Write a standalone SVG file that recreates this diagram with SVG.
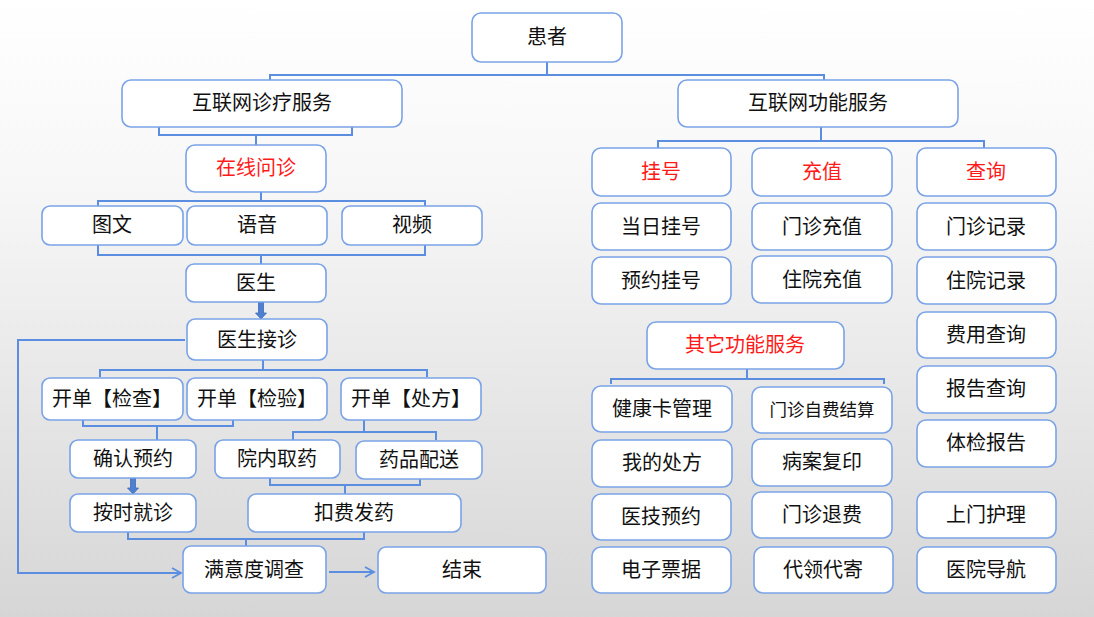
<svg xmlns="http://www.w3.org/2000/svg" width="1094" height="617" viewBox="0 0 1094 617">
<defs>
<linearGradient id="bg" x1="0" y1="0" x2="0" y2="1">
<stop offset="0" stop-color="#ffffff"/>
<stop offset="0.3" stop-color="#f7f7f7"/>
<stop offset="1" stop-color="#d6d6d6"/>
</linearGradient>
<marker id="arr" markerWidth="12" markerHeight="12" refX="10" refY="6" orient="auto" markerUnits="userSpaceOnUse">
<path d="M1,1 L10,6 L1,11" fill="none" stroke="#5b8ee0" stroke-width="1.8"/>
</marker>
<style>
.n rect{fill:#ffffff;stroke:#7aa3e6;stroke-width:1.6}
.n text{font-family:"Noto Sans CJK SC","Noto Sans",sans-serif;font-size:20px;fill:#111;text-anchor:middle;dominant-baseline:central;transform:translateY(-2px)}
.n text.r{fill:#ff1a1a}
.n text.s{font-size:17.5px}
.c path,.c line{fill:none;stroke:#5b8ee0;stroke-width:2}
.blk{fill:#4f80d0;stroke:#3e6db8;stroke-width:0.8}
</style>
</defs>
<rect width="1094" height="617" fill="url(#bg)"/>

<g class="c" id="connectors">
<path d="M547,62 V75 M270,82 V75 H824 V82"/>
<path d="M159,127 V135 H352 V127 M256,135 V145"/>
<path d="M261,192 V201 M98,206 V201 H425 V206"/>
<path d="M98,245 V255 H425 V245 M261,255 V264"/>
<path d="M263,360 V370 M100,377 V370 H427 V377"/>
<path d="M83,420 V426 H233 V420 M157,426 V440"/>
<path d="M364,420 V432 M293,440 V432 H436 V440"/>
<path d="M270,478 V485 H420 V478 M345,485 V494"/>
<path d="M128,532 V539 H364 V532 M246,539 V546"/>
<path d="M821,127 V141 M658,148 V141 H984 V148"/>
<path d="M747,369 V379 M611,384 V379 H884 V384"/>
<path d="M185,340 H18 V573 H181" marker-end="url(#arr)"/>
<path d="M329,572 H374" marker-end="url(#arr)"/>
<polygon class="blk" points="258.5,302 263.5,302 263.5,313 266.5,313 261,319 255.5,313 258.5,313"/>
<polygon class="blk" points="130.5,478 135.5,478 135.5,488 138.5,488 133,494 127.5,488 130.5,488"/>
</g>

<g class="n" id="patient"><rect x="472" y="13" width="150" height="49" rx="9"/><text x="547" y="37">患者</text></g>
<g class="n" id="internet-medical"><rect x="122" y="80" width="280" height="47" rx="9"/><text x="262" y="103">互联网诊疗服务</text></g>
<g class="n" id="internet-function"><rect x="678" y="80" width="280" height="47" rx="9"/><text x="818" y="103">互联网功能服务</text></g>

<g class="n" id="online-consult"><rect x="186" y="145" width="140" height="47" rx="9"/><text class="r" x="256" y="168">在线问诊</text></g>
<g class="n" id="text-chat"><rect x="42" y="206" width="141" height="39" rx="8"/><text x="112" y="225">图文</text></g>
<g class="n" id="voice"><rect x="187" y="206" width="140" height="39" rx="8"/><text x="257" y="225">语音</text></g>
<g class="n" id="video"><rect x="342" y="206" width="140" height="39" rx="8"/><text x="412" y="225">视频</text></g>
<g class="n" id="doctor"><rect x="186" y="264" width="140" height="38" rx="8"/><text x="256" y="283">医生</text></g>
<g class="n" id="doctor-accept"><rect x="187" y="319" width="140" height="41" rx="8"/><text x="257" y="340">医生接诊</text></g>
<g class="n" id="order-exam"><rect x="42" y="378" width="141" height="42" rx="8"/><text x="112" y="399">开单【检查】</text></g>
<g class="n" id="order-test"><rect x="187" y="378" width="140" height="42" rx="8"/><text x="257" y="399">开单【检验】</text></g>
<g class="n" id="order-rx"><rect x="341" y="378" width="140" height="42" rx="8"/><text x="411" y="399">开单【处方】</text></g>
<g class="n" id="confirm-appt"><rect x="70" y="440" width="126" height="38" rx="8"/><text x="133" y="459">确认预约</text></g>
<g class="n" id="pickup"><rect x="215" y="440" width="125" height="38" rx="8"/><text x="277" y="459">院内取药</text></g>
<g class="n" id="delivery"><rect x="356" y="441" width="126" height="38" rx="8"/><text x="419" y="460">药品配送</text></g>
<g class="n" id="on-time"><rect x="70" y="494" width="126" height="38" rx="8"/><text x="133" y="513">按时就诊</text></g>
<g class="n" id="pay-dispense"><rect x="248" y="494" width="213" height="38" rx="8"/><text x="354" y="513">扣费发药</text></g>
<g class="n" id="survey"><rect x="183" y="546" width="143" height="47" rx="8"/><text x="254" y="570">满意度调查</text></g>
<g class="n" id="end"><rect x="378" y="547" width="168" height="46" rx="8"/><text x="462" y="570">结束</text></g>

<g class="n" id="register"><rect x="592" y="148" width="139" height="48" rx="9"/><text class="r" x="661" y="172">挂号</text></g>
<g class="n" id="recharge"><rect x="752" y="148" width="140" height="48" rx="9"/><text class="r" x="822" y="172">充值</text></g>
<g class="n" id="query"><rect x="917" y="148" width="139" height="48" rx="9"/><text class="r" x="986" y="172">查询</text></g>
<g class="n" id="same-day"><rect x="592" y="203" width="139" height="47" rx="9"/><text x="661" y="227">当日挂号</text></g>
<g class="n" id="appointment"><rect x="592" y="257" width="139" height="47" rx="9"/><text x="661" y="281">预约挂号</text></g>
<g class="n" id="op-recharge"><rect x="752" y="203" width="140" height="47" rx="9"/><text x="822" y="227">门诊充值</text></g>
<g class="n" id="ip-recharge"><rect x="752" y="256" width="140" height="47" rx="9"/><text x="822" y="280">住院充值</text></g>
<g class="n" id="op-record"><rect x="917" y="203" width="139" height="47" rx="9"/><text x="986" y="227">门诊记录</text></g>
<g class="n" id="ip-record"><rect x="917" y="257" width="139" height="47" rx="9"/><text x="986" y="281">住院记录</text></g>
<g class="n" id="fee-query"><rect x="917" y="312" width="139" height="46" rx="9"/><text x="986" y="335">费用查询</text></g>
<g class="n" id="report-query"><rect x="917" y="366" width="139" height="47" rx="9"/><text x="986" y="389">报告查询</text></g>
<g class="n" id="checkup-report"><rect x="917" y="420" width="139" height="47" rx="9"/><text x="986" y="443">体检报告</text></g>
<g class="n" id="home-care"><rect x="917" y="492" width="139" height="46" rx="9"/><text x="986" y="515">上门护理</text></g>
<g class="n" id="navigation"><rect x="917" y="547" width="139" height="46" rx="9"/><text x="986" y="570">医院导航</text></g>

<g class="n" id="other-services"><rect x="647" y="322" width="197" height="47" rx="9"/><text class="r" x="745" y="345">其它功能服务</text></g>
<g class="n" id="health-card"><rect x="592" y="386" width="140" height="46" rx="9"/><text x="662" y="409">健康卡管理</text></g>
<g class="n" id="self-pay"><rect x="752" y="387" width="140" height="46" rx="9"/><text class="s" x="822" y="410">门诊自费结算</text></g>
<g class="n" id="my-rx"><rect x="592" y="440" width="140" height="47" rx="9"/><text x="662" y="463">我的处方</text></g>
<g class="n" id="record-copy"><rect x="752" y="439" width="140" height="47" rx="9"/><text x="822" y="462">病案复印</text></g>
<g class="n" id="tech-appt"><rect x="592" y="494" width="139" height="46" rx="9"/><text x="661" y="517">医技预约</text></g>
<g class="n" id="refund"><rect x="752" y="492" width="140" height="46" rx="9"/><text x="822" y="515">门诊退费</text></g>
<g class="n" id="e-invoice"><rect x="592" y="547" width="139" height="46" rx="9"/><text x="661" y="570">电子票据</text></g>
<g class="n" id="proxy"><rect x="754" y="547" width="139" height="46" rx="9"/><text x="823" y="570">代领代寄</text></g>
</svg>
